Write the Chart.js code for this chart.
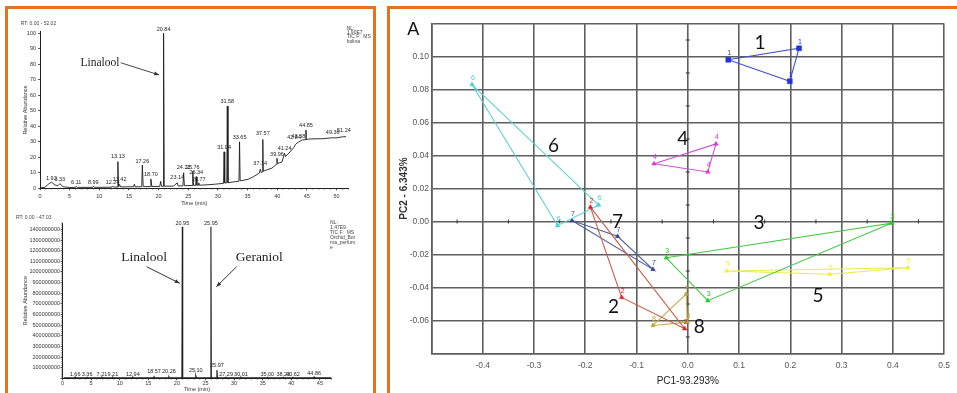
<!DOCTYPE html>
<html><head><meta charset="utf-8"><title>GC-MS and PCA</title>
<script src="https://cdn.jsdelivr.net/npm/chart.js@4.4.0/dist/chart.umd.min.js"></script>
<style>
html,body{margin:0;padding:0;background:#fff;}
body{width:957px;height:393px;overflow:hidden;position:relative;}
.frame{position:absolute;border:3px solid #e3731d;box-sizing:border-box;}
canvas{position:absolute;}
</style></head><body>
<div class="frame" style="left:5px;top:6px;width:371px;height:420px;"></div>
<div class="frame" style="left:387px;top:6px;width:600px;height:420px;"></div>
<canvas id="c1" width="365" height="200" style="left:8px;top:10px;width:365px;height:200px"></canvas>
<canvas id="c2" width="365" height="183" style="left:8px;top:210px;width:365px;height:183px"></canvas>
<canvas id="c3" width="567" height="384" style="left:390px;top:9px;width:567px;height:384px"></canvas>
<script>
const FONT = "'Liberation Sans', Arial, sans-serif";
const SERIF = "'Liberation Serif', 'Times New Roman', serif";

// ---------------- Top chromatogram (RT 0.00-52.02) ----------------
const topTime  = [0.0,0.8,1.4,1.92,2.5,3.0,3.33,3.9,5.0,6.0,6.11,6.3,8.9,8.99,9.2,12.1,12.24,12.4,13.05,13.13,13.25,13.42,13.6,15.8,15.9,16.05,17.15,17.26,17.4,18.6,18.7,18.85,20.2,20.35,20.5,20.75,20.84,20.95,22.5,23.14,23.3,24.1,24.22,24.35,25.65,25.76,25.9,26.25,26.34,26.45,26.7,26.77,26.9,28.0,29.4,30.95,31.04,31.15,31.5,31.58,31.7,33.55,33.65,33.75,35.1,36.0,37.0,37.14,37.3,37.5,37.57,37.65,38.3,39.1,39.9,39.96,40.05,40.8,41.24,41.4,41.96,42.84,43.1,43.58,44.2,44.8,44.85,44.9,45.4,47.7,49.36,49.9,51.0,51.6];
const topAbund = [0.3,0.6,2.6,4.0,2.2,1.6,3.0,1.0,0.5,0.6,1.3,0.6,0.6,1.3,0.6,0.7,1.5,0.8,0.8,17.2,0.9,2.5,0.9,1.0,2.6,1.0,1.0,15.0,1.1,1.1,6.0,1.2,1.2,4.5,1.3,1.3,100,1.4,1.4,3.5,1.5,1.6,10.0,1.7,1.8,11.0,1.9,1.9,7.5,2.0,2.0,3.5,2.0,2.2,2.6,3.2,23.5,3.4,3.5,53,3.6,4.6,30,4.8,5.8,7.5,9.8,12.3,10.2,10.5,31.5,11.0,12.0,13.0,15.5,19.3,16.0,17.0,22.6,20.5,22.6,26.5,28.4,29.8,31.2,31.4,37.6,31.4,31.8,32.0,32.6,32.5,33.2,33.3];
const topPeakLabels = ['1.92','3.33','6.11','8.99','12.24','13.13','13.42','17.26','18.70','20.84','23.14','24.22','25.76','26.34','26.77','31.04','31.58','33.65','37.14','37.57','39.96','41.24','42.84','43.58','44.85','49.36','51.24'];
const topPeakLabelAbund = [6.4,5.4,3.6,3.6,3.6,20.4,5.8,17.2,9.0,102.6,6.9,13.3,13.5,9.9,5.8,26.4,55.9,32.7,15.7,35.2,22.1,25.8,32.9,33.3,40.2,36.1,37.2];
const topXTicks = [0,5,10,15,20,25,30,35,40,45,50];
const topYTicks = [0,10,20,30,40,50,60,70,80,90,100];

// ---------------- Bottom chromatogram (RT 0.00-47.03) ----------------
const botTime  = [0.2,2.1,2.2,2.3,4.2,4.3,4.4,6.8,6.9,7.0,8.7,8.8,8.9,12.2,12.3,12.4,15.9,16.0,16.1,18.5,18.6,18.7,20.88,20.95,21.02,23.2,23.3,23.4,25.88,25.95,26.02,26.9,27.0,27.1,28.5,28.6,28.7,31.1,31.2,31.3,35.7,35.8,35.9,38.5,38.6,38.7,40.2,40.3,40.4,43.9,44.0,44.1,47.0];
const botAbund = [4000000,4000000,12000000,4000000,4000000,10000000,4000000,4000000,10000000,4000000,4000000,10000000,4000000,4000000,10000000,4000000,4000000,15000000,4000000,4000000,15000000,4000000,4000000,1425000000,4000000,4000000,25000000,4000000,4000000,1425000000,4000000,4000000,78000000,4000000,4000000,10000000,4000000,4000000,10000000,4000000,4000000,10000000,4000000,4000000,10000000,4000000,4000000,10000000,4000000,4000000,12000000,4000000,4000000];
const botPeakLabels = ['1.66','3.36','7.21','9.21','12.94','18.57','20.26','20.95','25.10','25.95','25.97','27.29','30.01','35.00','38.23','40.62','44.86'];
const botPeakLabelTime = [2.2,4.3,6.9,8.8,12.3,16.0,18.6,20.95,23.3,25.95,27.0,28.6,31.2,35.8,38.6,40.3,44.0];
const botPeakLabelAbund = [40000000,40000000,40000000,40000000,40000000,62000000,62000000,1455000000,71000000,1455000000,125000000,40000000,40000000,40000000,40000000,40000000,45000000];
const botXTicks = [0,5,10,15,20,25,30,35,40,45];
const botYTicks = [0,100000000,200000000,300000000,400000000,500000000,600000000,700000000,800000000,900000000,1000000000,1100000000,1200000000,1300000000,1400000000];
const botYTickLabels = ['','100000000','200000000','300000000','400000000','500000000','600000000','700000000','800000000','900000000','1000000000','1100000000','1200000000','1300000000','1400000000'];

// ---------------- PCA scores (PC1 93.293 %, PC2 6.343 %) ----------------
const groupNames = ['1','2','3','4','5','6','7','8'];
const pc1Group1 = [0.079, 0.217, 0.199];   const pc2Group1 = [0.098, 0.105, 0.085];
const pc1Group2 = [-0.190, -0.129, -0.006]; const pc2Group2 = [0.0087, -0.046, -0.065];
const pc1Group3 = [-0.042, 0.397, 0.039];  const pc2Group3 = [-0.022, -0.001, -0.048];
const pc1Group4 = [-0.066, 0.055, 0.039];  const pc2Group4 = [0.035, 0.047, 0.030];
const pc1Group5 = [0.076, 0.277, 0.429];   const pc2Group5 = [-0.030, -0.032, -0.028];
const pc1Group6 = [-0.421, -0.254, -0.174]; const pc2Group6 = [0.083, -0.0025, 0.010];
const pc1Group7 = [-0.226, -0.137, -0.068]; const pc2Group7 = [0.0006, -0.009, -0.029];
const pc1Group8 = [-0.068, -0.003, -0.001]; const pc2Group8 = [-0.063, -0.044, -0.061];
const groupNamePC1 = [0.141, -0.145, 0.139, -0.010, 0.254, -0.262, -0.137, 0.0226];
const groupNamePC2 = [0.108, -0.052, -0.001, 0.050, -0.045, 0.046, -0.0004, -0.0636];
const pcaXTicks = [-0.5,-0.4,-0.3,-0.2,-0.1,0,0.1,0.2,0.3,0.4,0.5];
const pcaXTickLabels = ['','-0.4','-0.3','-0.2','-0.1','0.0','0.1','0.2','0.3','0.4','0.5'];
const pcaYTicks = [-0.08,-0.06,-0.04,-0.02,0,0.02,0.04,0.06,0.08,0.10,0.12];
const pcaYTickLabels = ['','-0.06','-0.04','-0.02','0.00','0.02','0.04','0.06','0.08','0.10',''];

// ---------------- styles ----------------
const groupColors = ['#2233dd','#e02020','#22cc22','#dd33dd','#f0f030','#44d0d0','#334488','#b0a830'];
const lineColors  = ['#4450d0','#c85a4a','#44c844','#d050d0','#eaea50','#60d0d0','#50609a','#c8b050'];
const pointStyles = ['rect','triangle','triangle','triangle','triangle','triangle','triangle','triangle'];

function arrow(ctx, x1, y1, x2, y2) {
  ctx.beginPath(); ctx.moveTo(x1, y1); ctx.lineTo(x2, y2); ctx.stroke();
  const a = Math.atan2(y2 - y1, x2 - x1), L = 5, W = 2;
  ctx.beginPath(); ctx.moveTo(x2, y2);
  ctx.lineTo(x2 - L*Math.cos(a) + W*Math.sin(a), y2 - L*Math.sin(a) - W*Math.cos(a));
  ctx.lineTo(x2 - L*Math.cos(a) - W*Math.sin(a), y2 - L*Math.sin(a) + W*Math.cos(a));
  ctx.closePath(); ctx.fill();
}

function minorTicks(chart, axis, step, len) {
  const s = chart.scales[axis], a = chart.chartArea, ctx = chart.ctx;
  ctx.save(); ctx.strokeStyle = '#333'; ctx.lineWidth = 0.7; ctx.beginPath();
  const n = Math.floor((s.max - s.min) / step + 1e-9);
  for (let k = 0; k <= n; k++) {
    const p = s.getPixelForValue(s.min + k * step);
    if (axis === 'x') { ctx.moveTo(p, a.bottom); ctx.lineTo(p, a.bottom + len); }
    else { ctx.moveTo(a.left - len, p); ctx.lineTo(a.left, p); }
  }
  ctx.stroke(); ctx.restore();
}

function chromScales(o) {
  return {
    x: { type: 'linear', min: o.xmin, max: o.xmax,
      afterBuildTicks: s => { s.ticks = o.xTicks.map(v => ({ value: v })); },
      afterFit: s => { s.height = o.xh; },
      grid: { drawOnChartArea: false, drawTicks: true, tickLength: 2, color: '#333', lineWidth: 0.8 },
      border: { display: true, color: '#222', width: 1 },
      ticks: { autoSkip: false, maxRotation: 0, padding: o.xpad, font: { size: 5.5, family: FONT }, color: '#333',
               callback: (v, i) => o.xLabels[i] },
      title: { display: true, text: 'Time (min)', font: { size: 5.5, family: FONT }, color: '#333', padding: { top: 0, bottom: o.xtpad } } },
    y: { type: 'linear', min: o.ymin, max: o.ymax,
      afterBuildTicks: s => { s.ticks = o.yTicks.map(v => ({ value: v })); },
      afterFit: s => { s.width = o.yw; },
      grid: { drawOnChartArea: false, drawTicks: true, tickLength: 2, color: '#333', lineWidth: 0.8 },
      border: { display: true, color: '#222', width: 1 },
      ticks: { autoSkip: false, padding: o.ypad, font: { size: 5.5, family: FONT }, color: '#333',
               callback: (v, i) => o.yLabels[i] },
      title: { display: true, text: 'Relative Abundance', font: { size: 5.5, family: FONT }, color: '#333', padding: { top: o.ytpad, bottom: 0 } } }
  };
}

const common = { responsive: false, animation: false, devicePixelRatio: 1,
  plugins: { legend: { display: false }, tooltip: { enabled: false } } };

// ---------- Chart 1: top chromatogram ----------
new Chart(document.getElementById('c1'), {
  type: 'scatter',
  data: { datasets: [{ data: topTime.map((t, i) => ({ x: t, y: topAbund[i] })), showLine: true,
    borderColor: '#1e1e1e', borderWidth: 0.9, pointRadius: 0, tension: 0 }] },
  options: Object.assign({}, common, {
    layout: { padding: { left: 0, top: 21.7, right: 24.5, bottom: 0 } },
    scales: chromScales({ xmin: 0, xmax: 52.02, xTicks: topXTicks, xLabels: topXTicks.map(String), xh: 21.7, xpad: 2.4, xtpad: 3.4,
      ymin: 0, ymax: 101, yTicks: topYTicks, yLabels: topYTicks.map(String), yw: 32, ypad: 2, ytpad: 14.5 })
  }),
  plugins: [{ id: 'topDeco', afterDatasetsDraw(chart) {
    const { ctx, scales: { x, y } } = chart;
    minorTicks(chart, 'x', 1, 1.3);
    ctx.save();
    ctx.fillStyle = '#222'; ctx.font = '5.5px ' + FONT; ctx.textAlign = 'center'; ctx.textBaseline = 'middle';
    topPeakLabels.forEach((t, i) => ctx.fillText(t, x.getPixelForValue(parseFloat(t)), y.getPixelForValue(topPeakLabelAbund[i])));
    ctx.font = '11.5px ' + SERIF; ctx.fillStyle = '#222';
    ctx.fillText('Linalool', x.getPixelForValue(10.1), y.getPixelForValue(81));
    ctx.strokeStyle = '#333'; ctx.fillStyle = '#333'; ctx.lineWidth = 0.9;
    arrow(ctx, x.getPixelForValue(13.6), y.getPixelForValue(81), x.getPixelForValue(20.1), y.getPixelForValue(73.1));
    ctx.fillStyle = '#444'; ctx.font = '5px ' + FONT; ctx.textAlign = 'left';
    ctx.fillText('RT: 0.00 - 52.02', 12.7, 14);
    ['NL:', '1.90E7', 'TIC F:  MS', 'bolina'].forEach((s, i) => ctx.fillText(s, 338.7, 18.3 + i * 4.4));
    ctx.restore();
  } }]
});

// ---------- Chart 2: bottom chromatogram ----------
new Chart(document.getElementById('c2'), {
  type: 'scatter',
  data: { datasets: [{ data: botTime.map((t, i) => ({ x: t, y: botAbund[i] })), showLine: true,
    borderColor: '#1e1e1e', borderWidth: 1.1, pointRadius: 0, tension: 0 }] },
  options: Object.assign({}, common, {
    layout: { padding: { left: 0, top: 13, right: 41.5, bottom: 0 } },
    scales: chromScales({ xmin: 0, xmax: 47.03, xTicks: botXTicks, xLabels: botXTicks.map(String), xh: 14.7, xpad: 0, xtpad: 0,
      ymin: 0, ymax: 1460000000, yTicks: botYTicks, yLabels: botYTickLabels, yw: 54.5, ypad: 0.5, ytpad: 14.5 })
  }),
  plugins: [{ id: 'botDeco', afterDatasetsDraw(chart) {
    const { ctx, scales: { x, y } } = chart;
    minorTicks(chart, 'x', 1, 1.3);
    minorTicks(chart, 'y', 20000000, 1.3);
    ctx.save();
    ctx.fillStyle = '#222'; ctx.font = '5.5px ' + FONT; ctx.textAlign = 'center'; ctx.textBaseline = 'middle';
    botPeakLabels.forEach((t, i) => ctx.fillText(t, x.getPixelForValue(botPeakLabelTime[i]), y.getPixelForValue(botPeakLabelAbund[i])));
    ctx.font = '13.5px ' + SERIF; ctx.fillStyle = '#222';
    ctx.fillText('Linalool', x.getPixelForValue(14.25), y.getPixelForValue(1140000000));
    ctx.fillText('Geraniol', x.getPixelForValue(34.4), y.getPixelForValue(1140000000));
    ctx.strokeStyle = '#333'; ctx.fillStyle = '#333'; ctx.lineWidth = 1;
    arrow(ctx, x.getPixelForValue(14.7), y.getPixelForValue(1049000000), x.getPixelForValue(20.5), y.getPixelForValue(893000000));
    arrow(ctx, x.getPixelForValue(30.45), y.getPixelForValue(1049000000), x.getPixelForValue(26.9), y.getPixelForValue(861000000));
    ctx.fillStyle = '#444'; ctx.font = '5px ' + FONT; ctx.textAlign = 'left';
    ctx.fillText('RT: 0.00 - 47.03', 8, 7.7);
    ['NL:', '1.47E9', 'TIC F:  MS', 'Orchid_Bot', 'ma_perfum', 'e'].forEach((s, i) => ctx.fillText(s, 322, 12.7 + i * 4.9));
    ctx.restore();
  } }]
});

// ---------- Chart 3: PCA ----------
const pcaPC1 = [pc1Group1, pc1Group2, pc1Group3, pc1Group4, pc1Group5, pc1Group6, pc1Group7, pc1Group8];
const pcaPC2 = [pc2Group1, pc2Group2, pc2Group3, pc2Group4, pc2Group5, pc2Group6, pc2Group7, pc2Group8];
const pcaDatasets = groupNames.map((g, i) => {
  const pts = pcaPC1[i].map((v, j) => ({ x: v, y: pcaPC2[i][j] }));
  pts.push({ x: pts[0].x, y: pts[0].y });
  return { label: g, data: pts, showLine: true, tension: 0, borderColor: lineColors[i], borderWidth: 1.1,
    pointStyle: pointStyles[i], pointBackgroundColor: groupColors[i], pointBorderColor: groupColors[i], pointBorderWidth: 0.5,
    pointRadius: pts.map((p, j) => j === pts.length - 1 ? 0 : (i === 0 ? 3.5 : 2.6)) };
});
const gridCol = '#5f5f5f';
new Chart(document.getElementById('c3'), {
  type: 'scatter',
  data: { datasets: pcaDatasets },
  options: Object.assign({}, common, {
    layout: { padding: { left: 0, top: 14.5, right: 8.7, bottom: 0 } },
    scales: {
      x: { type: 'linear', min: -0.5, max: 0.5,
        afterBuildTicks: s => { s.ticks = pcaXTicks.map(v => ({ value: v })); },
        afterFit: s => { s.height = 39.5; },
        grid: { color: gridCol, lineWidth: 1.6, drawTicks: false },
        border: { display: true, color: gridCol, width: 1.6 },
        ticks: { autoSkip: false, maxRotation: 0, padding: 7, font: { size: 8.5, family: FONT }, color: '#555',
                 callback: (v, i) => pcaXTickLabels[i] },
        title: { display: true, text: 'PC1-93.293%', font: { size: 10, family: FONT }, color: '#222', padding: { top: 0, bottom: 6 } } },
      y: { type: 'linear', min: -0.08, max: 0.12,
        afterBuildTicks: s => { s.ticks = pcaYTicks.map(v => ({ value: v })); },
        afterFit: s => { s.width = 41.5; },
        grid: { color: gridCol, lineWidth: 1.6, drawTicks: false },
        border: { display: true, color: gridCol, width: 1.6 },
        ticks: { autoSkip: false, padding: 2.5, font: { size: 8.5, family: FONT }, color: '#555',
                 callback: (v, i) => pcaYTickLabels[i] },
        title: { display: true, text: 'PC2 - 6.343%', font: { size: 10, family: FONT, weight: 'bold' }, color: '#333', padding: { top: 8, bottom: 0 } } }
    }
  }),
  plugins: [{ id: 'pcaDeco',
    beforeDatasetsDraw(chart) {
      const { ctx, scales: { x, y } } = chart;
      ctx.save(); ctx.strokeStyle = '#333'; ctx.lineWidth = 1; ctx.beginPath();
      const y0 = y.getPixelForValue(0), x0 = x.getPixelForValue(0);
      for (let k = -9; k <= 9; k += 2) { const p = x.getPixelForValue(k / 20); ctx.moveTo(p, y0 - 2); ctx.lineTo(p, y0 + 2); }
      for (let k = -7; k <= 11; k += 2) { const p = y.getPixelForValue(k / 100); ctx.moveTo(x0 - 2, p); ctx.lineTo(x0 + 2, p); }
      ctx.stroke(); ctx.restore();
    },
    afterDatasetsDraw(chart) {
      const { ctx, scales: { x, y } } = chart;
      ctx.save();
      ctx.textAlign = 'center'; ctx.textBaseline = 'bottom'; ctx.font = '7px ' + FONT;
      chart.data.datasets.forEach((ds, i) => {
        const meta = chart.getDatasetMeta(i);
        ctx.fillStyle = groupColors[i];
        meta.data.forEach((el, j) => { if (j < meta.data.length - 1) ctx.fillText(groupNames[i], el.x + 1, el.y - 3); });
      });
      ctx.fillStyle = '#111'; ctx.textBaseline = 'middle'; ctx.font = "19px Lato, 'Noto Sans', sans-serif";
      groupNames.forEach((g, i) => ctx.fillText(g, x.getPixelForValue(groupNamePC1[i]), y.getPixelForValue(groupNamePC2[i])));
      ctx.font = '18px ' + FONT; ctx.fillStyle = '#111';
      ctx.fillText('A', 23.3, 21);
      ctx.restore();
    } }]
});
</script>
</body></html>
